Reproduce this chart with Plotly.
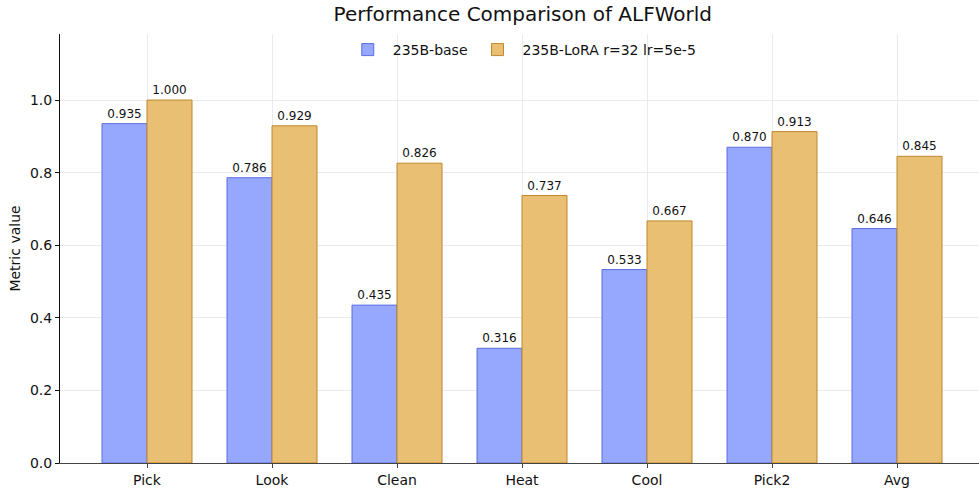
import plotly.graph_objects as go

categories = ["Pick", "Look", "Clean", "Heat", "Cool", "Pick2", "Avg"]
base_vals = [0.935, 0.786, 0.435, 0.316, 0.533, 0.870, 0.646]
lora_vals = [1.000, 0.929, 0.826, 0.737, 0.667, 0.913, 0.845]
series_names = ["235B-base", "235B-LoRA r=32 lr=5e-5"]
y_ticks = [0.0, 0.2, 0.4, 0.6, 0.8, 1.0]

fig = go.Figure()
fig.add_trace(go.Bar(
    x=list(range(len(categories))), y=base_vals, name=series_names[0],
    marker=dict(color="#96a7fe", line=dict(color="#5c6fe0", width=1)),
    text=[f"{v:.3f}" for v in base_vals], textposition="outside",
    textfont=dict(size=12, color="#111"), cliponaxis=False,
))
fig.add_trace(go.Bar(
    x=list(range(len(categories))), y=lora_vals, name=series_names[1],
    marker=dict(color="#e9bf74", line=dict(color="#c0872c", width=1)),
    text=[f"{v:.3f}" for v in lora_vals], textposition="outside",
    textfont=dict(size=12, color="#111"), cliponaxis=False,
))

fig.update_layout(
    width=979, height=489,
    margin=dict(l=60, r=0, t=34, b=26),
    paper_bgcolor="white", plot_bgcolor="white",
    font=dict(family="DejaVu Sans", size=14, color="#111"),
    title=dict(text="Performance Comparison of ALFWorld", x=0.534, xanchor="center",
               y=0.971, yanchor="middle", font=dict(size=20)),
    barmode="group", bargap=0.28, bargroupgap=0,
    legend=dict(orientation="h", x=0.503, xanchor="center", y=1.0, yanchor="top",
                bgcolor="rgba(255,255,255,0)", font=dict(size=14), itemwidth=40),
    uniformtext=dict(mode=False),
)
fig.update_xaxes(
    tickmode="array", tickvals=list(range(len(categories))), ticktext=categories,
    range=[-0.696, 6.656], showgrid=True, gridcolor="#e8ebf2",
    showline=True, linecolor="#444", linewidth=1,
    ticks="outside", ticklen=4, tickcolor="#444", tickfont=dict(size=14),
    zeroline=False,
)
fig.update_yaxes(
    title=dict(text="Metric value", font=dict(size=14), standoff=6),
    range=[0, 1.182], tickvals=y_ticks, ticktext=[f"{t:.1f}" for t in y_ticks],
    showgrid=True, gridcolor="#ebebeb",
    showline=True, linecolor="#111", linewidth=1,
    ticks="outside", ticklen=4, tickcolor="#111", tickfont=dict(size=14),
    zeroline=False,
)

fig.write_html("out.html", config={"displayModeBar": False},
               post_script="document.body.style.margin='0';")
